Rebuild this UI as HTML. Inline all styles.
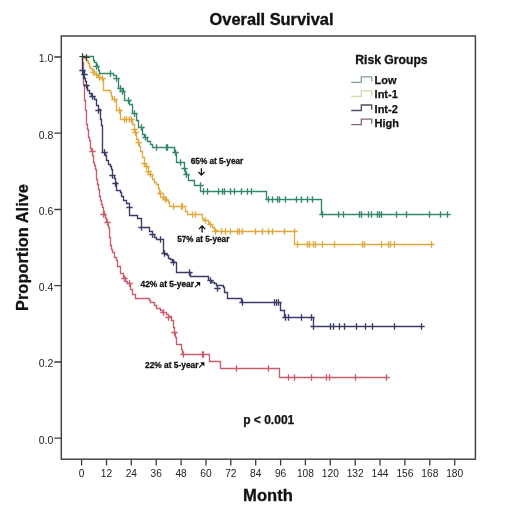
<!DOCTYPE html><html><head><meta charset="utf-8"><style>html,body{margin:0;padding:0;background:#fff;}svg{display:block;will-change:transform;}text{font-family:"Liberation Sans",sans-serif;}</style></head><body><svg width="520" height="517" viewBox="0 0 520 517"><rect width="520" height="517" fill="#fff"/><text x="271.5" y="24.8" font-size="16.4" font-weight="bold" text-anchor="middle" fill="#111" stroke="#111" stroke-width="0.35">Overall Survival</text><rect x="61.3" y="36.0" width="414.1" height="423.2" fill="none" stroke="#404040" stroke-width="1.45"/><path d="M54.3 438.2H61.3M54.3 362.0H61.3M54.3 285.7H61.3M54.3 209.5H61.3M54.3 133.2H61.3M54.3 57.0H61.3M81.6 459.2V465.5M106.5 459.2V465.5M131.3 459.2V465.5M156.2 459.2V465.5M181.1 459.2V465.5M206.0 459.2V465.5M230.8 459.2V465.5M255.7 459.2V465.5M280.6 459.2V465.5M305.4 459.2V465.5M330.3 459.2V465.5M355.2 459.2V465.5M380.0 459.2V465.5M404.9 459.2V465.5M429.8 459.2V465.5M454.7 459.2V465.5" stroke="#3a3a3a" stroke-width="1.3" fill="none"/><text x="53.3" y="443.6" font-size="10.5" text-anchor="end" fill="#222">0.0</text><text x="53.3" y="367.4" font-size="10.5" text-anchor="end" fill="#222">0.2</text><text x="53.3" y="291.1" font-size="10.5" text-anchor="end" fill="#222">0.4</text><text x="53.3" y="214.9" font-size="10.5" text-anchor="end" fill="#222">0.6</text><text x="53.3" y="138.6" font-size="10.5" text-anchor="end" fill="#222">0.8</text><text x="53.3" y="62.4" font-size="10.5" text-anchor="end" fill="#222">1.0</text><text x="81.6" y="476.6" font-size="10.2" text-anchor="middle" fill="#222">0</text><text x="106.5" y="476.6" font-size="10.2" text-anchor="middle" fill="#222">12</text><text x="131.3" y="476.6" font-size="10.2" text-anchor="middle" fill="#222">24</text><text x="156.2" y="476.6" font-size="10.2" text-anchor="middle" fill="#222">36</text><text x="181.1" y="476.6" font-size="10.2" text-anchor="middle" fill="#222">48</text><text x="206.0" y="476.6" font-size="10.2" text-anchor="middle" fill="#222">60</text><text x="230.8" y="476.6" font-size="10.2" text-anchor="middle" fill="#222">72</text><text x="255.7" y="476.6" font-size="10.2" text-anchor="middle" fill="#222">84</text><text x="280.6" y="476.6" font-size="10.2" text-anchor="middle" fill="#222">96</text><text x="305.4" y="476.6" font-size="10.2" text-anchor="middle" fill="#222">108</text><text x="330.3" y="476.6" font-size="10.2" text-anchor="middle" fill="#222">120</text><text x="355.2" y="476.6" font-size="10.2" text-anchor="middle" fill="#222">132</text><text x="380.0" y="476.6" font-size="10.2" text-anchor="middle" fill="#222">144</text><text x="404.9" y="476.6" font-size="10.2" text-anchor="middle" fill="#222">156</text><text x="429.8" y="476.6" font-size="10.2" text-anchor="middle" fill="#222">168</text><text x="454.7" y="476.6" font-size="10.2" text-anchor="middle" fill="#222">180</text><text x="268" y="500.8" font-size="16.6" font-weight="bold" text-anchor="middle" fill="#111" stroke="#111" stroke-width="0.3">Month</text><text transform="translate(28.2 247.5) rotate(-90)" x="0" y="0" font-size="16.4" font-weight="bold" text-anchor="middle" fill="#111" stroke="#111" stroke-width="0.3">Proportion Alive</text><defs><filter id="sb" x="-5%" y="-5%" width="110%" height="110%"><feGaussianBlur stdDeviation="0.4"/></filter></defs><g filter="url(#sb)"><path d="M82.5 56.5H82.5V62.5H83.5V67.5H83.5V73.5H83.5V78.5H83.5V84.5H84.5V89.5H84.5V95.5H84.5V100.5H85.5V105.5H85.5V110.5H86.5V115.5H86.5V119.5H86.5V124.5H87.5V129.5H88.5V133.5H88.5V137.5H89.5V140.5H90.5V144.5H90.5V148.5H91.5V151.5H92.5V155.5H93.5V158.5H93.5V162.5H94.5V165.5H95.5V169.5H96.5V174.5H96.5V179.5H97.5V184.5H98.5V189.5H99.5V193.5H99.5V196.5H100.5V200.5H101.5V204.5H102.5V207.5H103.5V211.5H104.5V215.5H105.5V218.5H106.5V221.5H107.5V224.5H108.5V227.5H109.5V232.5H109.5V237.5H110.5V242.5H110.5V245.5H111.5V249.5H112.5V252.5H114.5V257.5H116.5V260.5H117.5V266.5H120.5V267.5H120.5V273.5H123.5V277.5H125.5V281.5H127.5V283.5H130.5V289.5H132.5V294.5H135.5V298.5H149.5V300.5H150.5V302.5H154.5V305.5H156.5V308.5H160.5V310.5H163.5V312.5H166.5V314.5H168.5V316.5H171.5V320.5H173.5V327.5H174.5V332.5H175.5V337.5H176.5V344.5H181.5V349.5H182.5V354.5H209.5V361.5H220.5V368.5H279.5V377.5H387.5V377.5M89.3 151.5H95.7M92.5 148.3V154.7M100.3 214.5H106.7M103.5 211.3V217.7M104.3 222.5H110.7M107.5 219.3V225.7M121.3 278.5H127.7M124.5 275.3V281.7M126.3 283.5H132.7M129.5 280.3V286.7M160.3 312.5H166.7M163.5 309.3V315.7M165.3 317.5H171.7M168.5 314.3V320.7M171.3 332.5H177.7M174.5 329.3V335.7M180.3 354.5H186.7M183.5 351.3V357.7M199.3 354.5H205.7M202.5 351.3V357.7M200.3 354.5H206.7M203.5 351.3V357.7M233.3 368.5H239.7M236.5 365.3V371.7M265.3 368.5H271.7M268.5 365.3V371.7M285.3 377.5H291.7M288.5 374.3V380.7M291.3 377.5H297.7M294.5 374.3V380.7M308.3 377.5H314.7M311.5 374.3V380.7M323.3 377.5H329.7M326.5 374.3V380.7M326.3 377.5H332.7M329.5 374.3V380.7M352.3 377.5H358.7M355.5 374.3V380.7M383.3 377.5H389.7M386.5 374.3V380.7" stroke="#c85c6b" stroke-width="1.35" fill="none"/><path d="M82.5 56.5H82.5V70.5H83.5V74.5H83.5V78.5H85.5V81.5H86.5V85.5H87.5V90.5H89.5V93.5H91.5V96.5H94.5V99.5H96.5V105.5H98.5V109.5H100.5V119.5H101.5V125.5H102.5V152.5H105.5V155.5H106.5V160.5H108.5V164.5H110.5V166.5H111.5V169.5H112.5V175.5H114.5V178.5H115.5V182.5H116.5V190.5H120.5V192.5H121.5V196.5H123.5V200.5H126.5V203.5H129.5V215.5H137.5V218.5H141.5V227.5H149.5V231.5H152.5V234.5H154.5V237.5H156.5V239.5H163.5V253.5H164.5V254.5H167.5V255.5H168.5V258.5H170.5V259.5H172.5V261.5H174.5V262.5H176.5V272.5H190.5V276.5H208.5V280.5H211.5V282.5H214.5V283.5H216.5V285.5H223.5V287.5H224.5V292.5H227.5V298.5H241.5V302.5H280.5V310.5H284.5V317.5H313.5V326.5H423.5V326.5M79.3 70.5H85.7M82.5 67.3V73.7M81.3 74.5H87.7M84.5 71.3V77.7M83.3 85.5H89.7M86.5 82.3V88.7M89.3 96.5H95.7M92.5 93.3V99.7M95.3 110.5H101.7M98.5 107.3V113.7M101.3 152.5H107.7M104.5 149.3V155.7M109.3 175.5H115.7M112.5 172.3V178.7M112.3 183.5H118.7M115.5 180.3V186.7M126.3 207.5H132.7M129.5 204.3V210.7M138.3 227.5H144.7M141.5 224.3V230.7M149.3 234.5H155.7M152.5 231.3V237.7M157.3 239.5H163.7M160.5 236.3V242.7M161.3 253.5H167.7M164.5 250.3V256.7M170.3 262.5H176.7M173.5 259.3V265.7M186.3 272.5H192.7M189.5 269.3V275.7M207.3 280.5H213.7M210.5 277.3V283.7M214.3 288.5H220.7M217.5 285.3V291.7M239.3 302.5H245.7M242.5 299.3V305.7M271.3 302.5H277.7M274.5 299.3V305.7M273.3 302.5H279.7M276.5 299.3V305.7M275.3 302.5H281.7M278.5 299.3V305.7M282.3 317.5H288.7M285.5 314.3V320.7M285.3 317.5H291.7M288.5 314.3V320.7M298.3 317.5H304.7M301.5 314.3V320.7M308.3 317.5H314.7M311.5 314.3V320.7M310.3 326.5H316.7M313.5 323.3V329.7M327.3 326.5H333.7M330.5 323.3V329.7M330.3 326.5H336.7M333.5 323.3V329.7M336.3 326.5H342.7M339.5 323.3V329.7M341.3 326.5H347.7M344.5 323.3V329.7M353.3 326.5H359.7M356.5 323.3V329.7M362.3 326.5H368.7M365.5 323.3V329.7M369.3 326.5H375.7M372.5 323.3V329.7M391.3 326.5H397.7M394.5 323.3V329.7M418.3 326.5H424.7M421.5 323.3V329.7" stroke="#383a68" stroke-width="1.35" fill="none"/><path d="M82.5 56.5H84.5V58.5H86.5V60.5H87.5V61.5H88.5V63.5H89.5V66.5H90.5V68.5H92.5V70.5H94.5V72.5H96.5V74.5H97.5V75.5H98.5V77.5H101.5V78.5H103.5V90.5H110.5V92.5H111.5V96.5H112.5V99.5H116.5V110.5H120.5V119.5H132.5V122.5H132.5V124.5H134.5V129.5H135.5V132.5H136.5V139.5H138.5V142.5H139.5V146.5H140.5V151.5H142.5V157.5H144.5V163.5H146.5V166.5H148.5V171.5H150.5V174.5H152.5V179.5H154.5V182.5H156.5V184.5H158.5V188.5H159.5V193.5H163.5V197.5H166.5V200.5H168.5V202.5H169.5V206.5H185.5V211.5H187.5V214.5H202.5V218.5H203.5V220.5H208.5V223.5H210.5V224.5H212.5V227.5H214.5V230.5H217.5V231.5H294.5V244.5H434.5V244.5M90.3 72.5H96.7M93.5 69.3V75.7M93.3 74.5H99.7M96.5 71.3V77.7M96.3 77.5H102.7M99.5 74.3V80.7M99.3 78.5H105.7M102.5 75.3V81.7M111.3 99.5H117.7M114.5 96.3V102.7M116.3 110.5H122.7M119.5 107.3V113.7M121.3 119.5H127.7M124.5 116.3V122.7M123.3 119.5H129.7M126.5 116.3V122.7M126.3 119.5H132.7M129.5 116.3V122.7M128.3 119.5H134.7M131.5 116.3V122.7M131.3 129.5H137.7M134.5 126.3V132.7M132.3 132.5H138.7M135.5 129.3V135.7M135.3 142.5H141.7M138.5 139.3V145.7M141.3 163.5H147.7M144.5 160.3V166.7M143.3 166.5H149.7M146.5 163.3V169.7M145.3 171.5H151.7M148.5 168.3V174.7M147.3 174.5H153.7M150.5 171.3V177.7M157.3 193.5H163.7M160.5 190.3V196.7M160.3 197.5H166.7M163.5 194.3V200.7M162.3 199.5H168.7M165.5 196.3V202.7M170.3 206.5H176.7M173.5 203.3V209.7M178.3 206.5H184.7M181.5 203.3V209.7M179.3 206.5H185.7M182.5 203.3V209.7M189.3 214.5H195.7M192.5 211.3V217.7M192.3 214.5H198.7M195.5 211.3V217.7M202.3 220.5H208.7M205.5 217.3V223.7M207.3 224.5H213.7M210.5 221.3V227.7M212.3 231.5H218.7M215.5 228.3V234.7M218.3 231.5H224.7M221.5 228.3V234.7M222.3 231.5H228.7M225.5 228.3V234.7M227.3 231.5H233.7M230.5 228.3V234.7M234.3 231.5H240.7M237.5 228.3V234.7M236.3 231.5H242.7M239.5 228.3V234.7M239.3 231.5H245.7M242.5 228.3V234.7M252.3 231.5H258.7M255.5 228.3V234.7M259.3 231.5H265.7M262.5 228.3V234.7M265.3 231.5H271.7M268.5 228.3V234.7M269.3 231.5H275.7M272.5 228.3V234.7M281.3 231.5H287.7M284.5 228.3V234.7M291.3 231.5H297.7M294.5 228.3V234.7M294.3 244.5H300.7M297.5 241.3V247.7M304.3 244.5H310.7M307.5 241.3V247.7M306.3 244.5H312.7M309.5 241.3V247.7M310.3 244.5H316.7M313.5 241.3V247.7M312.3 244.5H318.7M315.5 241.3V247.7M319.3 244.5H325.7M322.5 241.3V247.7M331.3 244.5H337.7M334.5 241.3V247.7M359.3 244.5H365.7M362.5 241.3V247.7M361.3 244.5H367.7M364.5 241.3V247.7M378.3 244.5H384.7M381.5 241.3V247.7M385.3 244.5H391.7M388.5 241.3V247.7M387.3 244.5H393.7M390.5 241.3V247.7M391.3 244.5H397.7M394.5 241.3V247.7M428.3 244.5H434.7M431.5 241.3V247.7" stroke="#dfa83e" stroke-width="1.35" fill="none"/><path d="M82.5 56.5H93.5V60.5H94.5V62.5H96.5V64.5H97.5V66.5H98.5V70.5H99.5V73.5H113.5V75.5H116.5V78.5H118.5V82.5H118.5V88.5H123.5V91.5H124.5V100.5H129.5V104.5H132.5V113.5H136.5V118.5H136.5V120.5H138.5V127.5H142.5V134.5H144.5V137.5H147.5V141.5H150.5V144.5H152.5V147.5H174.5V152.5H176.5V162.5H184.5V168.5H185.5V174.5H188.5V180.5H194.5V185.5H200.5V191.5H266.5V199.5H321.5V214.5H449.5V214.5M93.3 66.5H99.7M96.5 63.3V69.7M107.3 73.5H113.7M110.5 70.3V76.7M113.3 78.5H119.7M116.5 75.3V81.7M117.3 88.5H123.7M120.5 85.3V91.7M119.3 91.5H125.7M122.5 88.3V94.7M125.3 100.5H131.7M128.5 97.3V103.7M131.3 113.5H137.7M134.5 110.3V116.7M138.3 127.5H144.7M141.5 124.3V130.7M142.3 137.5H148.7M145.5 134.3V140.7M153.3 147.5H159.7M156.5 144.3V150.7M163.3 147.5H169.7M166.5 144.3V150.7M164.3 147.5H170.7M167.5 144.3V150.7M172.3 152.5H178.7M175.5 149.3V155.7M177.3 162.5H183.7M180.5 159.3V165.7M181.3 168.5H187.7M184.5 165.3V171.7M183.3 174.5H189.7M186.5 171.3V177.7M197.3 185.5H203.7M200.5 182.3V188.7M200.3 191.5H206.7M203.5 188.3V194.7M204.3 191.5H210.7M207.5 188.3V194.7M215.3 191.5H221.7M218.5 188.3V194.7M219.3 191.5H225.7M222.5 188.3V194.7M221.3 191.5H227.7M224.5 188.3V194.7M227.3 191.5H233.7M230.5 188.3V194.7M231.3 191.5H237.7M234.5 188.3V194.7M238.3 191.5H244.7M241.5 188.3V194.7M244.3 191.5H250.7M247.5 188.3V194.7M248.3 191.5H254.7M251.5 188.3V194.7M265.3 199.5H271.7M268.5 196.3V202.7M269.3 199.5H275.7M272.5 196.3V202.7M274.3 199.5H280.7M277.5 196.3V202.7M276.3 199.5H282.7M279.5 196.3V202.7M282.3 199.5H288.7M285.5 196.3V202.7M293.3 199.5H299.7M296.5 196.3V202.7M298.3 199.5H304.7M301.5 196.3V202.7M304.3 199.5H310.7M307.5 196.3V202.7M309.3 199.5H315.7M312.5 196.3V202.7M319.3 214.5H325.7M322.5 211.3V217.7M335.3 214.5H341.7M338.5 211.3V217.7M340.3 214.5H346.7M343.5 211.3V217.7M356.3 214.5H362.7M359.5 211.3V217.7M358.3 214.5H364.7M361.5 211.3V217.7M365.3 214.5H371.7M368.5 211.3V217.7M368.3 214.5H374.7M371.5 211.3V217.7M374.3 214.5H380.7M377.5 211.3V217.7M376.3 214.5H382.7M379.5 211.3V217.7M378.3 214.5H384.7M381.5 211.3V217.7M393.3 214.5H399.7M396.5 211.3V217.7M403.3 214.5H409.7M406.5 211.3V217.7M426.3 214.5H432.7M429.5 211.3V217.7M437.3 214.5H443.7M440.5 211.3V217.7M444.3 214.5H450.7M447.5 211.3V217.7" stroke="#318768" stroke-width="1.35" fill="none"/></g><path d="M79.3 56.5H85.7M82.5 53.3V59.7M83.3 57.5H89.7M86.5 54.3V60.7" stroke="#3b3b30" stroke-width="1.2" fill="none"/><text x="355.2" y="64.4" font-size="12.2" font-weight="bold" fill="#111" stroke="#111" stroke-width="0.3">Risk Groups</text><path d="M351.2 82.3H361.3V76.8H371.7V81.5" stroke="#7fa193" stroke-width="1.3" fill="none"/><text x="374.6" y="84.3" font-size="11" font-weight="bold" fill="#111" stroke="#111" stroke-width="0.25">Low</text><path d="M351.2 96.4H361.3V90.9H371.7V95.6" stroke="#ddd2a6" stroke-width="1.3" fill="none"/><text x="374.6" y="98.4" font-size="11" font-weight="bold" fill="#111" stroke="#111" stroke-width="0.25">Int-1</text><path d="M351.2 110.5H361.3V105.0H371.7V109.7" stroke="#4d4d60" stroke-width="1.3" fill="none"/><text x="374.6" y="112.5" font-size="11" font-weight="bold" fill="#111" stroke="#111" stroke-width="0.25">Int-2</text><path d="M351.2 124.6H361.3V119.1H371.7V123.8" stroke="#8a6670" stroke-width="1.3" fill="none"/><text x="374.6" y="126.6" font-size="11" font-weight="bold" fill="#111" stroke="#111" stroke-width="0.25">High</text><text x="190.75" y="163.5" font-size="8.30" font-weight="bold" fill="#111" stroke="#111" stroke-width="0.28" textLength="52.47" lengthAdjust="spacingAndGlyphs">65% at 5-year</text><path d="M201.4 168.2V175M198.3 171.9L201.4 175.1L204.5 171.9" stroke="#111" stroke-width="1.3" fill="none"/><text x="177.25" y="242.4" font-size="8.30" font-weight="bold" fill="#111" stroke="#111" stroke-width="0.28" textLength="52.07" lengthAdjust="spacingAndGlyphs">57% at 5-year</text><path d="M202.1 226.2V232.6M198.9 229.1L202.1 226L205.3 229.1" stroke="#111" stroke-width="1.3" fill="none"/><text x="140.55" y="287.4" font-size="8.30" font-weight="bold" fill="#111" stroke="#111" stroke-width="0.28" textLength="53.47" lengthAdjust="spacingAndGlyphs">42% at 5-year</text><path d="M194.9 287.4L199.6 282.7" stroke="#111" stroke-width="1.2" fill="none"/><path d="M200.2 282.1H195.9L200.2 286.4Z" fill="#111"/><text x="145.05" y="367.7" font-size="8.30" font-weight="bold" fill="#111" stroke="#111" stroke-width="0.28" textLength="53.37" lengthAdjust="spacingAndGlyphs">22% at 5-year</text><path d="M199.1 367.6L203.8 362.9" stroke="#111" stroke-width="1.2" fill="none"/><path d="M204.4 362.3H200.1L204.4 366.6Z" fill="#111"/><text x="243.2" y="424.2" font-size="12" font-weight="bold" fill="#111" stroke="#111" stroke-width="0.25">p &lt; 0.001</text></svg></body></html>
